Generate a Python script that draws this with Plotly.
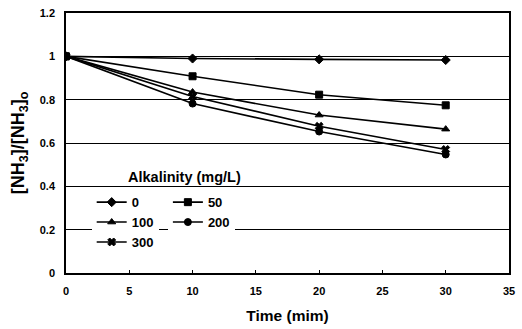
import plotly.graph_objects as go

time = [0, 10, 20, 30]
alk_0 = [1.0, 0.99, 0.986, 0.983]
alk_50 = [1.0, 0.908, 0.823, 0.774]
alk_100 = [1.0, 0.835, 0.729, 0.664]
alk_200 = [1.0, 0.782, 0.653, 0.547]
alk_300 = [1.0, 0.815, 0.677, 0.570]

x_ticks = [0, 5, 10, 15, 20, 25, 30, 35]
y_ticks = [0, 0.2, 0.4, 0.6, 0.8, 1.0, 1.2]
y_tick_labels = ["0", "0.2", "0.4", "0.6", "0.8", "1", "1.2"]

FONT = "Liberation Sans"

series = [
    ("0", alk_0, "diamond", 7, "legend"),
    ("100", alk_100, "triangle-up", 7, "legend"),
    ("300", alk_300, "x", 7, "legend"),
    ("50", alk_50, "square", 7, "legend2"),
    ("200", alk_200, "circle", 7, "legend2"),
]

fig = go.Figure()
for name, vals, sym, size, leg in series:
    fig.add_trace(go.Scatter(
        x=time, y=vals, name=name, mode="lines+markers",
        line=dict(color="black", width=1.6),
        marker=dict(symbol=sym, size=size, color="black",
                    line=dict(color="black", width=1)),
        legend=leg,
    ))

legend_common = dict(
    bgcolor="white", borderwidth=0,
    font=dict(family=FONT, size=13, color="black", weight="bold"),
    xanchor="left", yanchor="top", tracegroupgap=0, itemwidth=30,
)

fig.update_layout(
    width=522, height=329,
    margin=dict(l=66, r=7, t=12, b=52),
    paper_bgcolor="white", plot_bgcolor="white",
    font=dict(family=FONT, size=11, color="black", weight="bold"),
    showlegend=True,
    legend=dict(x=0.058, y=0.33, **legend_common),
    legend2=dict(x=0.23, y=0.33, **legend_common),
    xaxis=dict(
        range=[0, 35], tickvals=x_ticks, ticks="inside", ticklen=3,
        tickcolor="black", showgrid=False, zeroline=False,
        showline=True, linecolor="black", linewidth=1.5, mirror=True,
        ticklabelstandoff=7, ticklabeloverflow="allow",
        title=dict(text="Time (mim)", font=dict(size=15.5, family=FONT, weight="bold"), standoff=14),
        tickfont=dict(size=11, family=FONT, weight="bold"),
    ),
    yaxis=dict(
        range=[0, 1.2], tickvals=y_ticks, ticktext=y_tick_labels,
        ticks="", showgrid=True, gridcolor="black", gridwidth=1,
        zeroline=False, showline=True, linecolor="black", linewidth=1.5, mirror=True,
        ticklabelstandoff=7,
        title=dict(text="[NH<sub>3</sub>]/[NH<sub>3</sub>]<sub>o</sub>",
                   font=dict(size=18, family=FONT, weight="bold"), standoff=10),
        tickfont=dict(size=11, family=FONT, weight="bold"),
    ),
    annotations=[dict(
        text="Alkalinity (mg/L)", x=0.267, y=0.37, xref="paper", yref="paper",
        showarrow=False, font=dict(size=14.5, family=FONT, color="black", weight="bold"),
        xanchor="center", yanchor="middle",
    )],
)

fig.write_html("out.html", config={"displayModeBar": False},
               post_script="document.body.style.margin='0';")
